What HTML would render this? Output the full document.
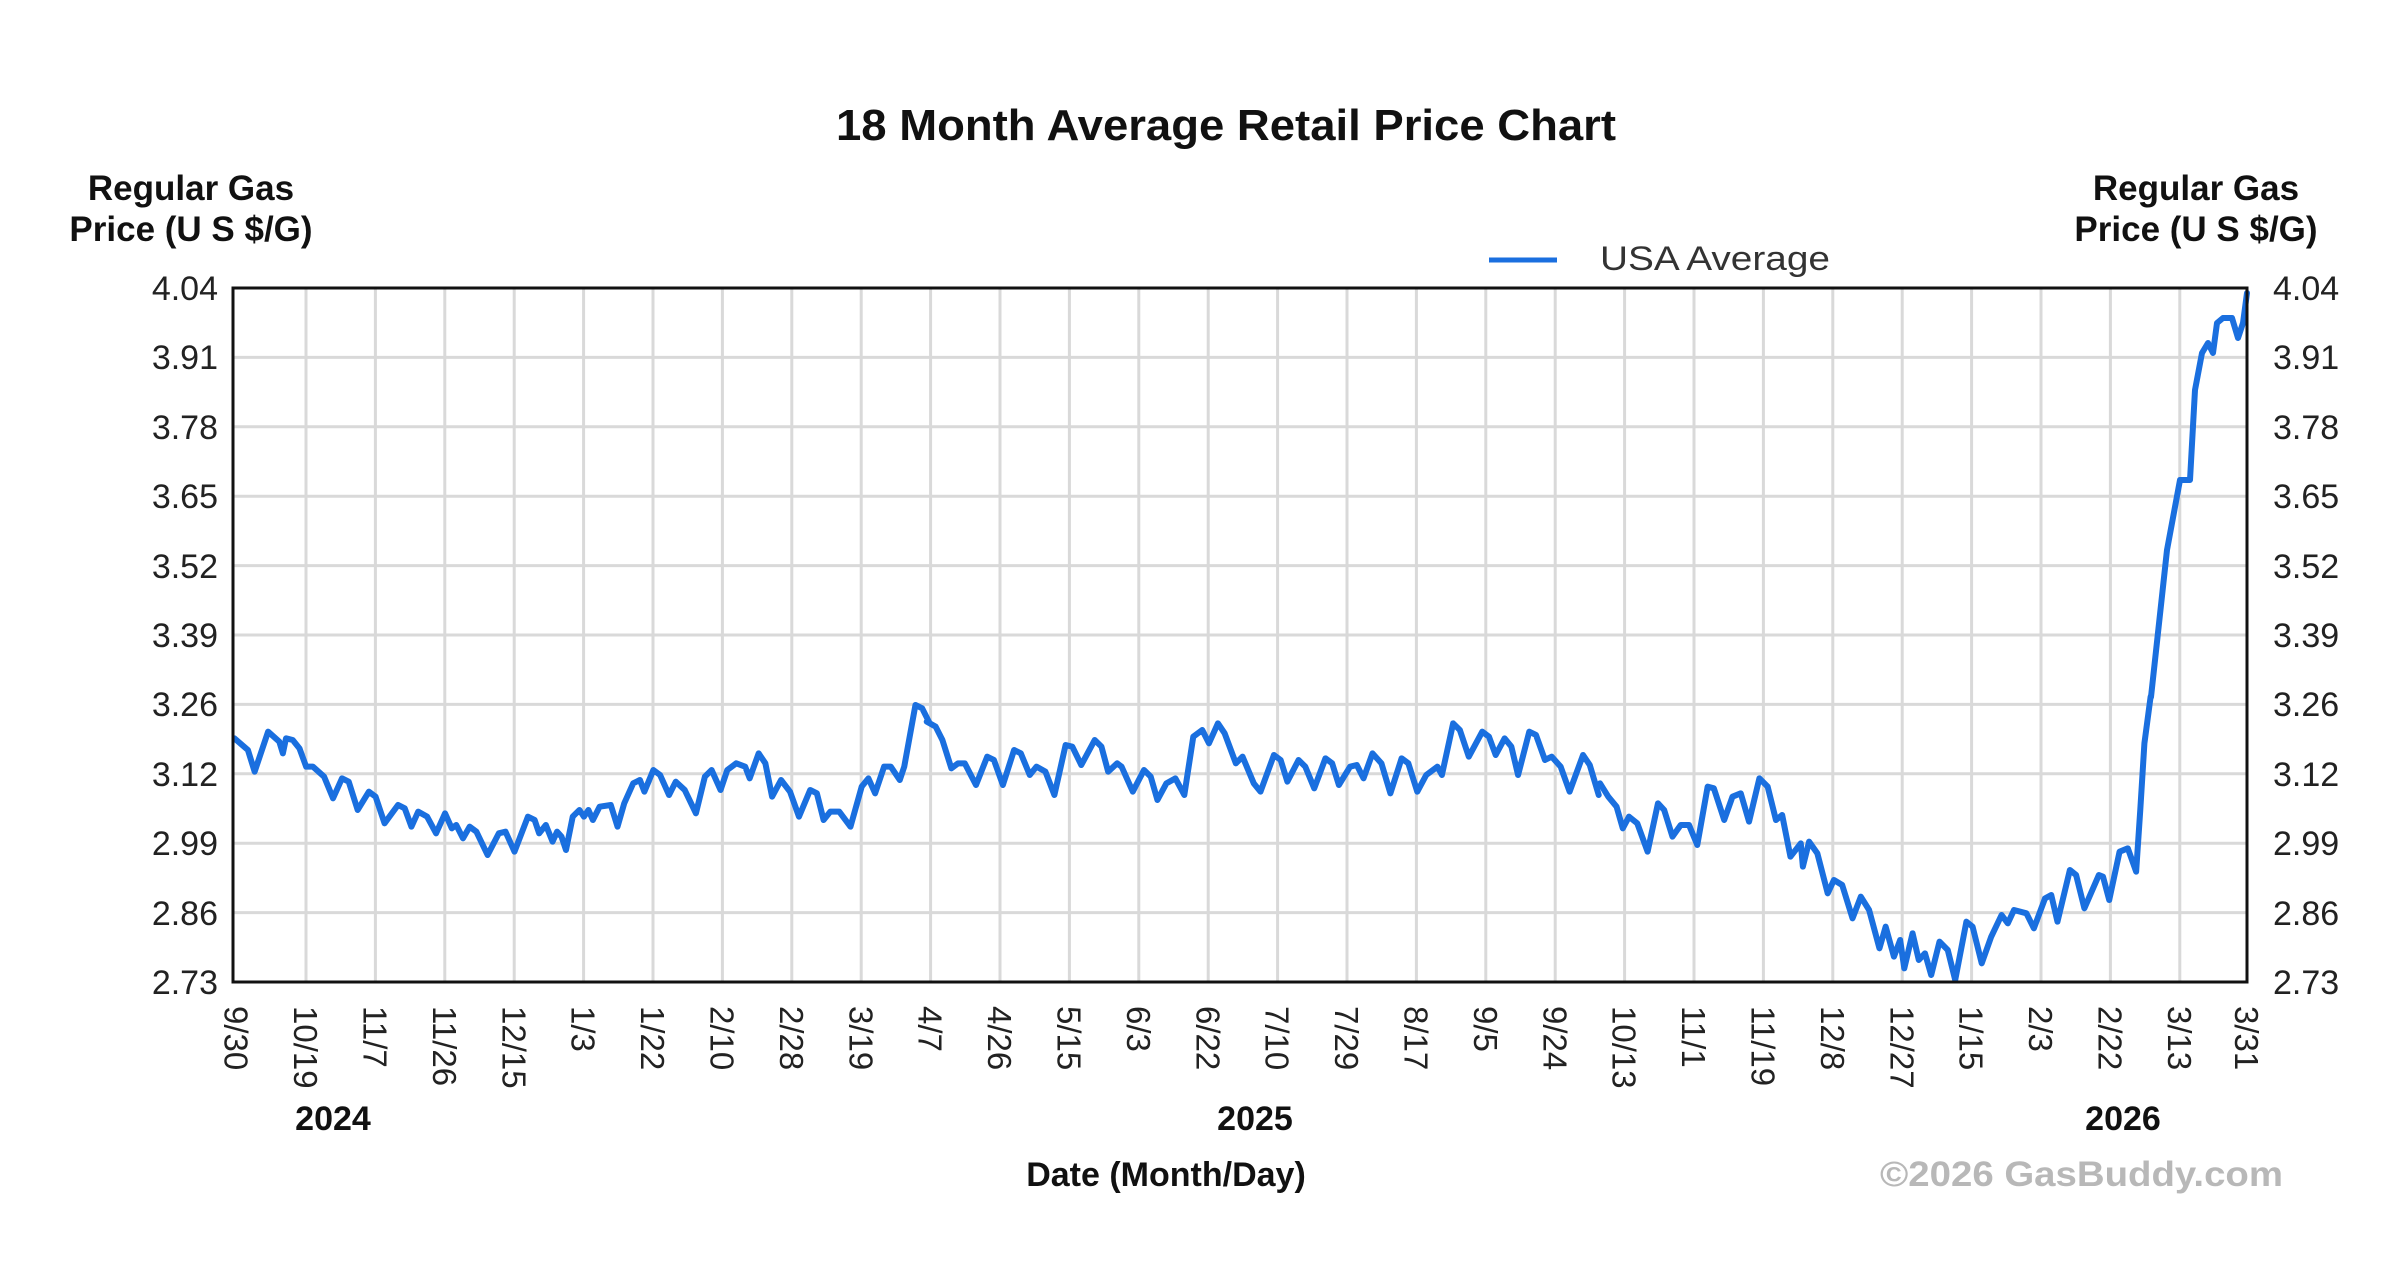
<!DOCTYPE html>
<html><head><meta charset="utf-8"><style>
html,body{margin:0;padding:0;background:#fff;}
svg{display:block;font-family:"Liberation Sans",Arial,sans-serif;}
</style></head><body>
<svg width="2400" height="1277" viewBox="0 0 2400 1277" xmlns="http://www.w3.org/2000/svg">
<rect width="2400" height="1277" fill="#fff"/>
<text x="1226" y="140" font-size="44" font-weight="bold" text-anchor="middle" fill="#111" textLength="780" lengthAdjust="spacingAndGlyphs">18 Month Average Retail Price Chart</text>
<g font-size="35" font-weight="bold" fill="#111" text-anchor="middle">
<text x="191" y="200">Regular Gas</text>
<text x="191" y="241">Price (U S $/G)</text>
<text x="2196" y="200">Regular Gas</text>
<text x="2196" y="241">Price (U S $/G)</text>
</g>
<line x1="1489" y1="260" x2="1557" y2="260" stroke="#1a6fdf" stroke-width="5"/>
<text x="1600" y="270" font-size="34" fill="#333" textLength="230" lengthAdjust="spacingAndGlyphs">USA Average</text>
<g stroke="#d9d9d9" stroke-width="3">
<path d="M233 357.4H2247M233 426.8H2247M233 496.2H2247M233 565.6H2247M233 635H2247M233 704.4H2247M233 773.8H2247M233 843.2H2247M233 912.6H2247"/>
<path d="M306 288V982M375.4 288V982M444.8 288V982M514.2 288V982M583.6 288V982M653 288V982M722.4 288V982M791.8 288V982M861.2 288V982M930.6 288V982M1000 288V982M1069.4 288V982M1138.8 288V982M1208.2 288V982M1277.6 288V982M1347 288V982M1416.4 288V982M1485.8 288V982M1555.2 288V982M1624.6 288V982M1694 288V982M1763.4 288V982M1832.8 288V982M1902.2 288V982M1971.6 288V982M2041 288V982M2110.4 288V982M2179.8 288V982"/>
</g>
<g fill="none" stroke="#1a6fdf" stroke-width="6" stroke-linejoin="round" stroke-linecap="round">
<polyline vector-effect="non-scaling-stroke" transform="translate(230,660) scale(0.448,0.33333)" points="10,235 40,270 55,335 85,215 110,245 118,280 125,235 140,240 155,265 170,320 185,320 210,350 230,415 250,355 265,365 285,450 310,395 325,410 345,490 375,435 390,445 405,500 420,455 440,470 460,520 480,460 495,505 505,495 520,535 535,500 550,515 575,585 600,520 615,515 635,575 665,470 680,480 690,520 705,495 720,545 730,515 740,530 750,570 765,470 780,450 790,470 800,450 810,480 825,440 850,435 865,500 880,430 900,370 915,360 925,395 945,330 960,345 980,405 995,365 1015,390 1040,460 1060,350 1075,330 1095,390 1110,330 1130,310 1150,320 1160,355 1180,280 1195,310 1210,410 1230,360 1250,395 1270,470 1295,390 1310,400 1325,480 1340,455 1360,455 1385,500 1410,380 1425,355 1440,400 1460,320 1475,320 1495,360 1505,320 1530,135 1545,145 1560,185"/>
<polyline vector-effect="non-scaling-stroke" transform="translate(920,660) scale(0.448,0.33333)" points="15,185 35,200 50,240 70,325 85,310 100,310 125,375 150,290 165,300 185,375 210,270 225,280 245,345 260,320 280,335 300,405 325,255 340,260 360,315 390,240 405,260 420,335 440,310 450,320 475,395 500,330 515,350 530,420 550,370 570,355 590,405 610,230 630,210 645,250 665,190 680,220 705,310 720,290 745,370 760,395 790,285 805,300 820,365 845,300 860,320 880,385 905,295 920,310 935,375 960,320 975,315 990,355 1010,280 1030,310 1050,400 1075,295 1090,310 1110,395 1130,345 1155,320 1165,345 1190,190 1205,210 1225,290 1255,215 1270,230 1285,285 1305,235 1320,260 1335,345 1360,215 1375,225 1395,300 1410,290 1430,320 1450,395 1480,285 1495,315 1515,405"/>
<polyline vector-effect="non-scaling-stroke" transform="translate(1600,700) scale(0.414,0.33333)" points="0,250 20,290 40,320 55,385 70,350 90,370 115,455 140,310 155,330 175,410 195,375 215,375 235,435 260,260 275,265 300,360 320,290 340,280 360,365 385,235 405,260 425,360 440,345 460,470 485,430 490,500 505,425 525,460 550,580 565,540 585,555 610,655 630,590 650,630 675,745 690,680 710,770 725,720 735,805 755,700 770,780 785,760 800,825 820,725 840,750 858,840 885,665 900,680 922,790 945,710 970,645 985,670 1000,630 1030,640 1048,685 1075,595 1090,585 1105,665 1135,510 1150,525 1170,625 1205,525 1215,530 1230,600 1255,455 1275,445 1295,515 1305,330 1315,130 1330,-10"/>
<polyline points="2151,697 2167,550 2180,480 2190,480 2195,390 2202,353 2208,343 2213,353 2217,323 2223,318 2232,318 2238,338 2243,323 2247,293"/>
</g>
<rect x="233" y="288" width="2014" height="694" fill="none" stroke="#111" stroke-width="3"/>
<g font-size="34" fill="#222">
<g text-anchor="end">
<text x="218" y="300">4.04</text><text x="218" y="369">3.91</text><text x="218" y="439">3.78</text><text x="218" y="508">3.65</text><text x="218" y="578">3.52</text><text x="218" y="647">3.39</text><text x="218" y="716">3.26</text><text x="218" y="786">3.12</text><text x="218" y="855">2.99</text><text x="218" y="925">2.86</text><text x="218" y="994">2.73</text>
</g>
<g>
<text x="2273" y="300">4.04</text><text x="2273" y="369">3.91</text><text x="2273" y="439">3.78</text><text x="2273" y="508">3.65</text><text x="2273" y="578">3.52</text><text x="2273" y="647">3.39</text><text x="2273" y="716">3.26</text><text x="2273" y="786">3.12</text><text x="2273" y="855">2.99</text><text x="2273" y="925">2.86</text><text x="2273" y="994">2.73</text>
</g>
</g>
<g font-size="33" fill="#222">
<text transform="translate(236.6,1006) rotate(90)" dy="0.36em">9/30</text>
<text transform="translate(306,1006) rotate(90)" dy="0.36em">10/19</text>
<text transform="translate(375.4,1006) rotate(90)" dy="0.36em">11/7</text>
<text transform="translate(444.8,1006) rotate(90)" dy="0.36em">11/26</text>
<text transform="translate(514.2,1006) rotate(90)" dy="0.36em">12/15</text>
<text transform="translate(583.6,1006) rotate(90)" dy="0.36em">1/3</text>
<text transform="translate(653,1006) rotate(90)" dy="0.36em">1/22</text>
<text transform="translate(722.4,1006) rotate(90)" dy="0.36em">2/10</text>
<text transform="translate(791.8,1006) rotate(90)" dy="0.36em">2/28</text>
<text transform="translate(861.2,1006) rotate(90)" dy="0.36em">3/19</text>
<text transform="translate(930.6,1006) rotate(90)" dy="0.36em">4/7</text>
<text transform="translate(1000,1006) rotate(90)" dy="0.36em">4/26</text>
<text transform="translate(1069.4,1006) rotate(90)" dy="0.36em">5/15</text>
<text transform="translate(1138.8,1006) rotate(90)" dy="0.36em">6/3</text>
<text transform="translate(1208.2,1006) rotate(90)" dy="0.36em">6/22</text>
<text transform="translate(1277.6,1006) rotate(90)" dy="0.36em">7/10</text>
<text transform="translate(1347,1006) rotate(90)" dy="0.36em">7/29</text>
<text transform="translate(1416.4,1006) rotate(90)" dy="0.36em">8/17</text>
<text transform="translate(1485.8,1006) rotate(90)" dy="0.36em">9/5</text>
<text transform="translate(1555.2,1006) rotate(90)" dy="0.36em">9/24</text>
<text transform="translate(1624.6,1006) rotate(90)" dy="0.36em">10/13</text>
<text transform="translate(1694,1006) rotate(90)" dy="0.36em">11/1</text>
<text transform="translate(1763.4,1006) rotate(90)" dy="0.36em">11/19</text>
<text transform="translate(1832.8,1006) rotate(90)" dy="0.36em">12/8</text>
<text transform="translate(1902.2,1006) rotate(90)" dy="0.36em">12/27</text>
<text transform="translate(1971.6,1006) rotate(90)" dy="0.36em">1/15</text>
<text transform="translate(2041,1006) rotate(90)" dy="0.36em">2/3</text>
<text transform="translate(2110.4,1006) rotate(90)" dy="0.36em">2/22</text>
<text transform="translate(2179.8,1006) rotate(90)" dy="0.36em">3/13</text>
<text transform="translate(2247,1006) rotate(90)" dy="0.36em">3/31</text>
</g>
<g font-size="34" font-weight="bold" fill="#111" text-anchor="middle">
<text x="333" y="1130">2024</text>
<text x="1255" y="1130">2025</text>
<text x="2123" y="1130">2026</text>
<text x="1166" y="1186">Date (Month/Day)</text>
</g>
<text x="1880" y="1186" font-size="35" font-weight="bold" fill="#b8b8b8" textLength="403" lengthAdjust="spacingAndGlyphs">©2026 GasBuddy.com</text>
</svg>
</body></html>
